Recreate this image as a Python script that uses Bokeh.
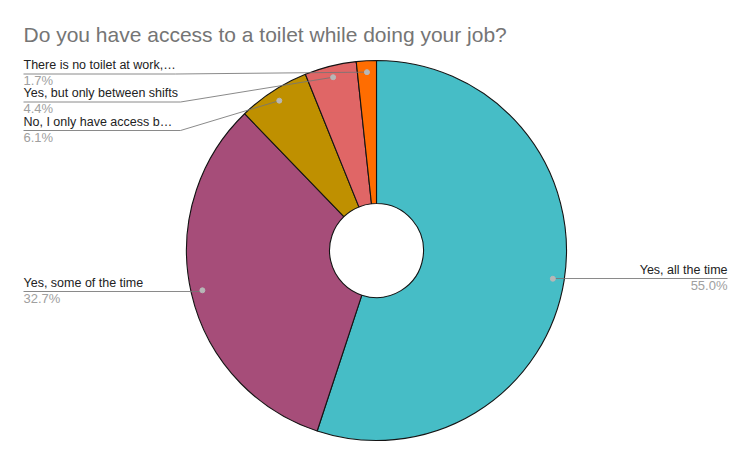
import numpy as np
from bokeh.plotting import figure
from bokeh.models import Range1d
from bokeh.core.properties import value
from bokeh.embed import file_html
from bokeh.resources import INLINE

# dados do grafico
titulo = "Do you have access to a toilet while doing your job?"
categorias = ["Yes, all the time", "Yes, some of the time", "No, I only have access b\u2026",
              "Yes, but only between shifts", "There is no toilet at work,\u2026"]
percentuais = [55.0, 32.7, 6.1, 4.4, 1.7]
rotulos_pct = ["55.0%", "32.7%", "6.1%", "4.4%", "1.7%"]
cores = ["#46bdc6", "#a64d79", "#bf9000", "#e06666", "#ff6d01"]

# layout (coordenadas em pixels da imagem, y para baixo)
LARGURA, ALTURA = 734, 448
AJUSTE_TEXTO = 6  # o texto svg sai um pouco mais baixo
def px(x):
    return x
def py(y):
    return ALTURA - y

centro_x, centro_y = px(376), py(250)
raio, raio_furo = 190, 47
fonte = "Liberation Sans"

# posicao dos rotulos: lado, linha base do nome, base do %, sublinhado, cotovelo
lados = ["right", "left", "left", "left", "left"]
base_nome = [275, 288, 127, 98.5, 70.5]
base_pct = [291, 304, 143, 114, 86]
y_sublinhado = [278, 291, 130, 101.5, 73.5]
cotovelo_x = [None, None, 180, 180, 175]

fracoes = np.array(percentuais) / sum(percentuais)
acum = np.concatenate([[0], np.cumsum(fracoes)])
ang_ini = np.pi / 2 - 2 * np.pi * acum[:-1]
ang_fim = np.pi / 2 - 2 * np.pi * acum[1:]
ang_meio = (ang_ini + ang_fim) / 2
ponto_x = centro_x + 0.94 * raio * np.cos(ang_meio)
ponto_y = centro_y + 0.94 * raio * np.sin(ang_meio)

p = figure(width=LARGURA, height=ALTURA, output_backend="svg", toolbar_location=None,
           x_range=Range1d(0, LARGURA), y_range=Range1d(0, ALTURA),
           x_axis_location=None, y_axis_location=None, min_border=0, tools="")
p.outline_line_color = None
p.grid.visible = False
p.background_fill_color = "white"

p.annular_wedge(x=centro_x, y=centro_y, inner_radius=raio_furo, outer_radius=raio,
                start_angle=ang_ini, end_angle=ang_fim, direction="clock",
                fill_color=cores, line_color="#141414", line_width=1.1)

# linhas de chamada
xs, ys = [], []
for i in range(len(categorias)):
    u = py(y_sublinhado[i])
    if lados[i] == "right":
        xs.append([px(727), ponto_x[i]])
        ys.append([u, u])
    elif cotovelo_x[i] is None:
        xs.append([px(23), ponto_x[i]])
        ys.append([u, u])
    else:
        xs.append([px(23), px(cotovelo_x[i]), ponto_x[i]])
        ys.append([u, u, ponto_y[i]])
p.multi_line(xs=xs, ys=ys, line_color="#757575", line_width=1, line_alpha=0.85)
p.scatter(x=ponto_x, y=ponto_y, size=5, color="#b7b7b7")

for i in range(len(categorias)):
    if lados[i] == "right":
        tx, alin = px(727), "right"
    else:
        tx, alin = px(23), "left"
    p.text(x=[tx], y=[py(base_nome[i] - AJUSTE_TEXTO)], text=[categorias[i]],
           text_font=value(fonte), text_font_size="12.5px", text_color="#222222",
           text_align=alin, text_baseline="alphabetic")
    p.text(x=[tx], y=[py(base_pct[i] - AJUSTE_TEXTO)], text=[rotulos_pct[i]],
           text_font=value(fonte), text_font_size="13px", text_color="#a0a0a0",
           text_align=alin, text_baseline="alphabetic")

p.text(x=[px(23)], y=[py(39.5 - AJUSTE_TEXTO)], text=[titulo], text_font=value(fonte),
       text_font_size="21px", text_color="#757575", text_baseline="alphabetic")

open("out.html", "w").write(file_html(p, INLINE))
